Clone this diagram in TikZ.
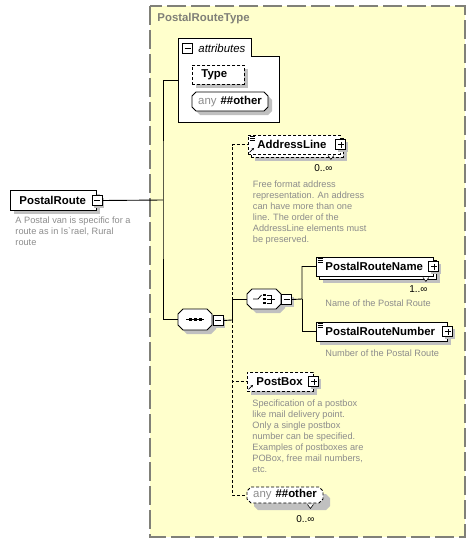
\documentclass[tikz,border=0pt]{standalone}
\usepackage{fontspec}
\setmainfont{Liberation Sans}
\usetikzlibrary{positioning,arrows.meta}

\definecolor{typebg}{RGB}{255,255,204}
\definecolor{typeframe}{RGB}{128,128,120}
\definecolor{docgray}{RGB}{140,140,140}
\definecolor{shadowgray}{RGB}{192,192,192}

\newcommand{\elemfont}{\fontsize{11.4}{13}\selectfont\bfseries}
\newcommand{\docfont}{\fontsize{9.2}{11}\selectfont}
\newcommand{\occfont}{\fontsize{10}{12}\selectfont}

\begin{document}
\begin{tikzpicture}[x=1pt, y=-1pt, line width=0.9pt]
\useasboundingbox (0,0) rectangle (476,543);

    \tikzstyle{boxshadow}=[preaction={draw=none, fill=shadowgray, transform canvas={shift={(4pt,-4pt)}}}]
    \tikzstyle{stacked}=[preaction={draw=none, fill=shadowgray, transform canvas={shift={(7pt,-7pt)}}}, preaction={transform canvas={shift={(3pt,-3pt)}}}]
    \tikzstyle{elem}=[draw, fill=white, inner xsep=9pt, inner ysep=0pt, minimum height=19pt, align=left, font=\elemfont]
    \tikzstyle{elemshadow}=[elem, draw=none, fill=shadowgray]
    \tikzstyle{optional}=[dash pattern=on 3pt off 2pt]
    \tikzstyle{toggle}=[draw, fill=white, minimum width=10pt, minimum height=10pt, inner sep=0pt, line width=0.9pt]
    \tikzstyle{togshadow}=[fill=shadowgray, minimum width=10pt, minimum height=10pt, inner sep=0pt]
    \tikzstyle{minus}=[toggle, path picture={\draw[line width=0.8pt] ([xshift=-3pt]path picture bounding box.center) -- ([xshift=3pt]path picture bounding box.center);}]
    \tikzstyle{plus}=[toggle, path picture={\draw[line width=0.8pt] ([xshift=-3pt]path picture bounding box.center) -- ([xshift=3pt]path picture bounding box.center) ([yshift=-3pt]path picture bounding box.center) -- ([yshift=3pt]path picture bounding box.center);}]
    \tikzstyle{octo}=[draw, fill=white]
    \tikzstyle{anchorbox}=[inner sep=0pt, font=\elemfont]
    \tikzstyle{doc}=[anchor=north west, inner sep=0pt, align=left, text=docgray, font=\docfont]
    \tikzstyle{occurs}=[anchor=east, inner sep=0pt, font=\occfont]

% complex type frame
\fill[typebg] (150,6) rectangle (465,537);
\draw[typeframe, line width=1.5pt, dash pattern=on 19pt off 5pt] (150,6) rectangle (465,537);
\node[anchor=west, inner sep=0pt, text=typeframe, font=\elemfont] (typename) at (157,19) {PostalRouteType};

% root element
\node[elemshadow, text width=68pt, minimum height=20pt, anchor=west] (pr-sh) at (14,204) {};
\node[elem, text width=68pt, minimum height=20pt, anchor=west] (pr) at (10,200) {PostalRoute};
\node[doc] (prdoc) at (15,216.5) {A Postal van is specific for a\\route as in Is\textasciigrave rael, Rural\\route};

% attributes
\draw[fill=white] (178,38) -- (251,38) -- (251,56) -- (279,56) -- (279,122) -- (178,122) -- cycle;
\node[anchor=west, inner sep=0pt, font=\fontsize{11.4}{13}\selectfont\itshape] (attrlabel) at (198,48) {attributes};
\node[elemshadow, text width=34pt, anchor=west] (type-sh) at (196,78.5) {};
\node[elem, optional, text width=34pt, anchor=west] (type) at (192,74.5) {Type};
\draw[octo, boxshadow] (196,92) -- (264,92) -- (268,96) -- (268,107) -- (264,111) -- (196,111) -- (192,107) -- (192,96) -- cycle;
\node[anchorbox, minimum width=76pt, minimum height=19pt] (anyattr) at (230,101.5) {{\mdseries\color{docgray}any}\hspace{4pt}\#\#other};
\coordinate (attrin) at (178,80);

% sequence and choice
\draw[octo, boxshadow] (183,309) -- (207,309) -- (212,314) -- (212,325) -- (207,330) -- (183,330) -- (178,325) -- (178,314) -- cycle;
\node[anchorbox, minimum width=34pt, minimum height=21pt] (seq) at (195,319.5) {};
\draw[octo, boxshadow] (252,289) -- (276,289) -- (281,294) -- (281,304) -- (276,309) -- (252,309) -- (247,304) -- (247,294) -- cycle;
\node[anchorbox, minimum width=34pt, minimum height=20pt] (ch) at (264,299) {};

% child elements
\node[elemshadow, text width=74pt, anchor=west] (al-sh) at (255,151.5) {};
\node[elem, optional, text width=74pt, anchor=west] (al-copy) at (251,147.5) {};
\node[elem, optional, text width=74pt, anchor=west] (al) at (248,144.5) {AddressLine};
\node[occurs] (alocc) at (333,168) {0..∞};
\node[doc] (aldoc) at (252.5,180.5) {Free format address\\representation. An address\\can have more than one\\line. The order of the\\AddressLine elements must\\be preserved.};

\node[elemshadow, text width=99pt, anchor=west] (prn-sh) at (323,273.5) {};
\node[elem, text width=99pt, anchor=west] (prn-copy) at (319,269.5) {};
\node[elem, text width=99pt, anchor=west] (prn) at (316,266.5) {PostalRouteName};
\node[occurs] (prnocc) at (428,289) {1..∞};
\node[doc] (prndoc) at (325,299.5) {Name of the Postal Route};

\node[elemshadow, text width=113pt, anchor=west] (prnum-sh) at (320,335.5) {};
\node[elem, text width=113pt, anchor=west] (prnum) at (316,331.5) {PostalRouteNumber};
\node[doc] (prnumdoc) at (325,349.5) {Number of the Postal Route};

\node[elemshadow, text width=48pt, anchor=west] (pb-sh) at (251,385.5) {};
\node[elem, optional, text width=48pt, anchor=west] (pb) at (247,381.5) {PostBox};
\node[doc] (pbdoc) at (252,399.5) {Specification of a postbox\\like mail delivery point.\\Only a single postbox\\number can be specified.\\Examples of postboxes are\\POBox, free mail numbers,\\etc.};

\draw[octo, optional, stacked] (251,487) -- (319,487) -- (323,491) -- (323,499) -- (319,503) -- (251,503) -- (247,499) -- (247,491) -- cycle;
\node[anchorbox, minimum width=76pt, minimum height=16pt] (anyel) at (285,495) {{\mdseries\color{docgray}any}\hspace{4pt}\#\#other};
\node[occurs] (anyocc) at (315,519) {0..∞};

% expand and collapse boxes
\node[minus] (attrx) at (187.5,48) {};
\node[togshadow] (prx-sh) at (99,202.5) {};
\node[minus] (prx) at (97,200.5) {};
\node[togshadow] (seqx-sh) at (220,322.5) {};
\node[minus] (seqx) at (218,320.5) {};
\node[togshadow] (chx-sh) at (288.5,301.5) {};
\node[minus] (chx) at (286.5,299.5) {};
\foreach \n in {al,prn,prnum,pb}{
  \node[togshadow] (\n x-sh) at ([shift={(2pt,-2pt)}]\n.east) {};
  \node[plus] (\n x) at (\n.east) {};
}

% little icons
\foreach \n in {al,prn,prnum}
  \foreach \d in {2pt,4pt,6pt}
    \draw[line width=0.6pt] ([xshift=1.5pt,yshift=-\d]\n.north west) -- ++(5,0);
\foreach \n in {al,pb}
  \draw[line width=0.7pt, -{Stealth[length=2.5pt,width=2.5pt]}] ([xshift=1.5pt,yshift=2pt]\n.south west) -- ++(4.5,-4.5);
\draw[line width=0.8pt] ([xshift=-9pt]seq.center) -- ([xshift=9pt]seq.center);
\foreach \dx in {-5,0,5}
  \fill ([shift={(\dx,0)}]seq.center) +(-1.5,-1.5) rectangle +(1.5,1.5);
\draw[line width=0.8pt] ([xshift=-11pt]ch.center) -- ++(5,0) -- ++(3.5,-4);
\foreach \dy in {-4,0,4}
  \fill ([shift={(0.5,\dy)}]ch.center) +(-1.2,-1.2) rectangle +(1.2,1.2);
\draw[line width=0.8pt] ([shift={(3,-4)}]ch.center) -- ++(4,0) -- ++(0,8) -- ++(-4,0)
      ([shift={(3,0)}]ch.center) -- ++(8,0);
\draw[fill=white, line width=0.6pt] ([xshift=-13pt,yshift=-1pt]al.south east) -- ++(3,4) -- ++(3,-4);
\draw[fill=white, line width=0.6pt] ([xshift=-11pt,yshift=-1pt]prn.south east) -- ++(3,4) -- ++(3,-4);
\draw[fill=white, line width=0.6pt] ([xshift=-16pt,yshift=-1pt]anyel.south east) -- ++(3,4) -- ++(3,-4);

% connectors
\coordinate (spine) at (163,200);
\coordinate (seqout) at (232,320);
\coordinate (chout) at (302,299);
\draw (prx.east) -- (spine);
\draw (attrin) -| (spine) |- (seq.west);
\draw (seqx.east) -- (seqout);
\draw[optional] (seqout) |- (al.west);
\draw[optional] (seqout) |- (pb.west);
\draw[optional] (seqout) |- (anyel.west);
\draw (seqout) |- (ch.west);
\draw (chx.east) -- (chout) |- (prn.west);
\draw (chout) |- (prnum.west);
\end{tikzpicture}
\end{document}
